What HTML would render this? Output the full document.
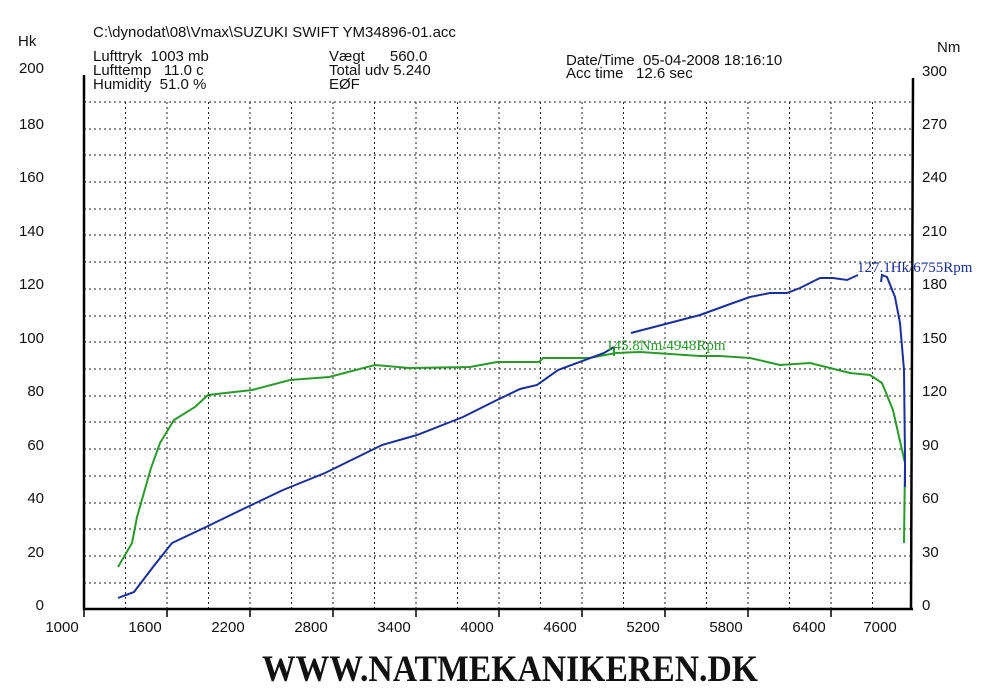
<!DOCTYPE html>
<html><head><meta charset="utf-8"><style>
html,body{margin:0;padding:0;background:#fff;}
svg{display:block;}
text{font-family:"Liberation Sans",Arial,sans-serif;fill:#111;white-space:pre;}
</style></head><body>
<svg width="1000" height="698" viewBox="0 0 1000 698" xmlns="http://www.w3.org/2000/svg" xml:space="preserve">
<rect width="1000" height="698" fill="#fff"/>
<g font-size="15">
<text x="93" y="37">C:\dynodat\08\Vmax\SUZUKI SWIFT YM34896-01.acc</text>
<text x="93" y="61">Lufttryk  1003 mb</text>
<text x="93" y="75">Lufttemp   11.0 c</text>
<text x="93" y="89">Humidity  51.0 %</text>
<text x="329" y="61">Vægt      560.0</text>
<text x="329" y="75">Total udv 5.240</text>
<text x="329" y="89">EØF</text>
<text x="566" y="65">Date/Time  05-04-2008 18:16:10</text>
<text x="566" y="78">Acc time   12.6 sec</text>
<text x="937" y="52">Nm</text>
<text x="18" y="46">Hk</text>
</g>
<g stroke="#222" stroke-width="1" stroke-dasharray="2,3">
<line x1="84" x2="912" y1="102" y2="102"/><line x1="84" x2="912" y1="129" y2="129"/>
<line x1="84" x2="912" y1="155" y2="155"/><line x1="84" x2="912" y1="182" y2="182"/>
<line x1="84" x2="912" y1="209" y2="209"/><line x1="84" x2="912" y1="235" y2="235"/>
<line x1="84" x2="912" y1="262" y2="262"/><line x1="84" x2="912" y1="289" y2="289"/>
<line x1="84" x2="912" y1="316" y2="316"/><line x1="84" x2="912" y1="342" y2="342"/>
<line x1="84" x2="912" y1="369" y2="369"/><line x1="84" x2="912" y1="396" y2="396"/>
<line x1="84" x2="912" y1="422" y2="422"/><line x1="84" x2="912" y1="449" y2="449"/>
<line x1="84" x2="912" y1="476" y2="476"/><line x1="84" x2="912" y1="503" y2="503"/>
<line x1="84" x2="912" y1="529" y2="529"/><line x1="84" x2="912" y1="556" y2="556"/>
<line x1="84" x2="912" y1="583" y2="583"/>
<line y1="102" y2="609" x1="125.5" x2="125.5"/><line y1="102" y2="609" x1="167" x2="167"/>
<line y1="102" y2="609" x1="208.5" x2="208.5"/><line y1="102" y2="609" x1="250" x2="250"/>
<line y1="102" y2="609" x1="291.5" x2="291.5"/><line y1="102" y2="609" x1="333" x2="333"/>
<line y1="102" y2="609" x1="374.5" x2="374.5"/><line y1="102" y2="609" x1="416" x2="416"/>
<line y1="102" y2="609" x1="457.5" x2="457.5"/><line y1="102" y2="609" x1="499" x2="499"/>
<line y1="102" y2="609" x1="540.5" x2="540.5"/><line y1="102" y2="609" x1="582" x2="582"/>
<line y1="102" y2="609" x1="623.5" x2="623.5"/><line y1="102" y2="609" x1="665" x2="665"/>
<line y1="102" y2="609" x1="706.5" x2="706.5"/><line y1="102" y2="609" x1="748" x2="748"/>
<line y1="102" y2="609" x1="789.5" x2="789.5"/><line y1="102" y2="609" x1="831" x2="831"/>
<line y1="102" y2="609" x1="872.5" x2="872.5"/>
</g>
<g stroke="#000" stroke-width="2.5" fill="none">
<line x1="84" y1="75" x2="84" y2="610"/>
<line x1="913" y1="78" x2="911" y2="610"/>
<line x1="83" y1="609" x2="913" y2="609"/>
</g>
<g stroke="#000" stroke-width="1.5">
<line x1="84" x2="84" y1="609" y2="617"/><line x1="167" x2="167" y1="609" y2="617"/>
<line x1="250" x2="250" y1="609" y2="617"/><line x1="333" x2="333" y1="609" y2="617"/>
<line x1="416" x2="416" y1="609" y2="617"/><line x1="499" x2="499" y1="609" y2="617"/>
<line x1="582" x2="582" y1="609" y2="617"/><line x1="665" x2="665" y1="609" y2="617"/>
<line x1="748" x2="748" y1="609" y2="617"/><line x1="831" x2="831" y1="609" y2="617"/>
</g>
<g font-size="15" text-anchor="end">
<text x="44" y="73">200</text><text x="44" y="129">180</text>
<text x="44" y="182">160</text><text x="44" y="236">140</text>
<text x="44" y="289">120</text><text x="44" y="343">100</text>
<text x="44" y="396">80</text><text x="44" y="450">60</text>
<text x="44" y="503">40</text><text x="44" y="557">20</text>
<text x="44" y="610">0</text>
</g>
<g font-size="15" text-anchor="start">
<text x="922" y="76">300</text><text x="922" y="129">270</text>
<text x="922" y="182">240</text><text x="922" y="236">210</text>
<text x="922" y="289">180</text><text x="922" y="343">150</text>
<text x="922" y="396">120</text><text x="922" y="450">90</text>
<text x="922" y="503">60</text><text x="922" y="557">30</text>
<text x="922" y="610">0</text>
</g>
<g font-size="15" text-anchor="middle">
<text x="62" y="632">1000</text><text x="145" y="632">1600</text>
<text x="228" y="632">2200</text><text x="311" y="632">2800</text>
<text x="394" y="632">3400</text><text x="477" y="632">4000</text>
<text x="560" y="632">4600</text><text x="643" y="632">5200</text>
<text x="726" y="632">5800</text><text x="809" y="632">6400</text>
<text x="880" y="632">7000</text>
</g>
<polyline fill="none" stroke="#2a9a2a" stroke-width="2" points="118,567 132,543 137,517 151,468 160,443 174,420 195,407 208,395 252,390 290,380 329,377 375,365 409,368 470,367 497,362 539,362 543,358 589,358 616,353 640,352 700,356 720,356 750,358 780,365 810,363 830,368 850,373 870,375 882,383 893,410 902,450 905,463 904,543"/>
<polyline fill="none" stroke="#1a2f9a" stroke-width="2" points="118,598 134,592 153,567 172,543 206,527 241,510 283,490 325,473 382,445 417,435 463,417 497,400 520,389 537,385 558,370 604,353 614,347"/>
<polyline fill="none" stroke="#1a2f9a" stroke-width="2" points="631,333 700,315 733,303 750,297 770,293 787,293 800,288 820,278 833,278 847,280 858,275"/>
<polyline fill="none" stroke="#1a2f9a" stroke-width="2" points="881,282 882,275 887,277 895,297 900,323 904,370 905,457 905,487"/>
<line x1="614" y1="348" x2="614" y2="356" stroke="#2a9a2a" stroke-width="2"/>
<text x="606" y="350" font-size="15" style="fill:#2a9a2a;font-family:'Liberation Serif',serif;">145.8Nm/4948Rpm</text>
<text x="857" y="272" font-size="15" style="fill:#1a2f9a;font-family:'Liberation Serif',serif;">127.1Hk/6755Rpm</text>
<text x="262" y="681" font-size="37" font-weight="bold" textLength="496" lengthAdjust="spacingAndGlyphs" style="font-family:'Liberation Serif',serif;fill:#111;">WWW.NATMEKANIKEREN.DK</text>
</svg>
</body></html>
